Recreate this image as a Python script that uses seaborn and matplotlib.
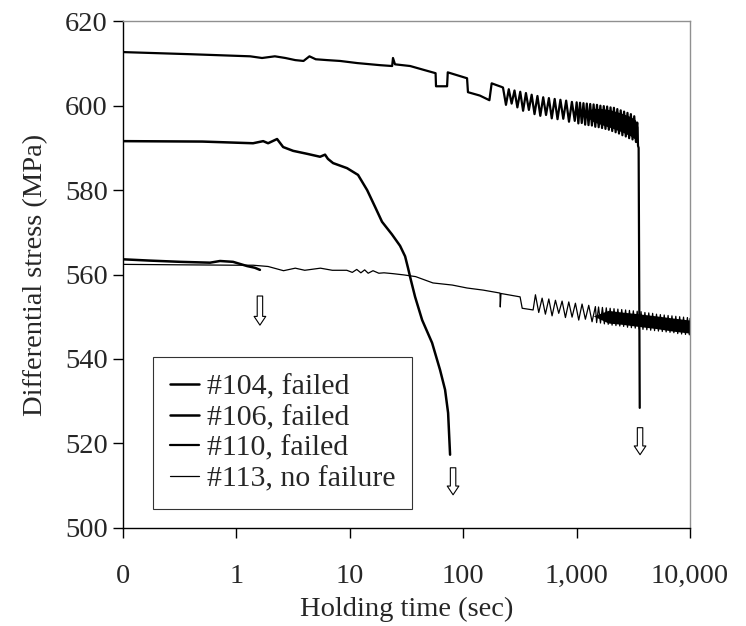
import matplotlib
matplotlib.use("Agg")
import matplotlib.pyplot as plt
import seaborn as sns

# holding time (s) and differential stress (MPa)
t104 = [0.1, 0.17, 0.32, 0.585, 0.716, 0.933, 1.24, 1.45, 1.61]
s104 = [563.6, 563.3, 563.0, 562.8, 563.2, 563.0, 562.0, 561.6, 561.1]

t106 = [0.1, 0.5, 1.40, 1.72, 1.90, 2.28, 2.58, 3.16, 4.19, 5.46, 6.04, 6.4,
        7.11, 9.44, 11.8, 14.2, 16.7, 19.2, 23.5, 27.7, 30.7, 32.6, 34.5,
        37.6, 43.4, 53.1, 62.4, 69.1, 73.5, 76.5]
s106 = [591.6, 591.5, 591.1, 591.6, 591.1, 592.1, 590.2, 589.3, 588.6, 587.9,
        588.4, 587.4, 586.4, 585.2, 583.6, 580.0, 576.0, 572.5, 569.5, 566.8,
        564.3, 561.5, 558.7, 554.7, 549.2, 543.8, 537.4, 532.7, 527.2, 517.3]

t110 = [0.1, 0.39, 1.32, 1.68, 2.18, 2.7, 3.3, 3.9, 4.4, 5.0, 6.3, 8.2, 11.6,
        18.5, 23.6, 24.0, 25.0, 34, 46, 57, 57.5, 72, 73, 108, 110, 140, 170,
        178, 200, 215,
        224, 238, 252, 267, 283, 300, 318, 337, 357, 379, 401, 425, 451, 478,
        507, 537, 569, 603, 640, 678, 719, 762, 808, 856, 908, 962,
        1000, 1035, 1071, 1109, 1148, 1188, 1229, 1272, 1317, 1363, 1411,
        1460, 1511, 1564, 1619, 1675, 1734, 1795, 1857, 1922, 1990, 2059,
        2131, 2206, 2283, 2363, 2446, 2531, 2620, 2712, 2806, 2904, 3006,
        3111, 3220, 3333, 3420, 3476, 3520, 3600]
s110 = [612.7, 612.2, 611.7, 611.3, 611.7, 611.3, 610.8, 610.6, 611.7, 611.0,
        610.8, 610.6, 610.1, 609.6, 609.4, 611.3, 609.8, 609.4, 608.4, 607.7,
        604.6, 604.6, 607.9, 606.5, 603.2, 602.4, 601.3, 605.3, 604.8, 604.5,
        604.3, 600.2, 603.9, 600.5, 603.6, 599.6, 603.3, 598.8, 603.0, 599.0,
        602.6, 598.0, 602.3, 597.6, 602.0, 597.8, 601.8, 597.0, 601.6, 596.8,
        601.4, 596.9, 601.2, 596.2, 600.9, 596.4,
        600.8, 595.8, 600.7, 595.9, 600.6, 595.5, 600.5, 595.4, 600.4, 595.3,
        600.3, 595.0, 600.2, 594.9, 600.0, 594.7, 599.9, 594.5, 599.8, 594.3,
        599.6, 594.0, 599.5, 593.7, 599.2, 593.4, 598.9, 593.0, 598.6, 592.7,
        598.3, 592.3, 598.0, 592.0, 597.5, 591.4, 596.0, 590.5, 590.0, 528.4]

t113 = [0.1, 0.3, 1.0, 1.4, 1.9, 2.6, 3.3, 4.0, 5.5, 7.0, 9.4, 10.5, 11.5,
        12.5, 13.5, 14.5, 16, 18, 20, 24, 30, 38, 54, 80, 108, 150, 211, 212,
        215, 317, 331, 413,
        433, 463, 496, 530, 568, 607, 650, 695, 744, 796, 852, 911, 975,
        1043, 1116, 1194, 1278, 1367, 1463,
        1500, 1560, 1622, 1687, 1755, 1825, 1898, 1974, 2053, 2135, 2220,
        2309, 2401, 2497, 2597, 2701, 2809, 2921, 3038, 3160, 3286, 3418,
        3554, 3696, 3844, 3998, 4158, 4324, 4497, 4677, 4864, 5059, 5261,
        5471, 5690, 5918, 6154, 6401, 6657, 6923, 7200, 7488, 7787, 8099,
        8423, 8760, 9110, 9474, 9853, 10000]
s113 = [562.4, 562.3, 562.2, 562.2, 561.9, 560.9, 561.5, 561.0, 561.5, 561.0,
        561.0, 560.5, 561.2, 560.4, 561.1, 560.3, 560.9, 560.3, 560.4, 560.2,
        559.9, 559.5, 558.0, 557.5, 556.8, 556.3, 555.6, 552.3, 555.5, 554.7,
        552.0, 551.6,
        555.2, 551.0, 554.4, 550.6, 554.2, 550.2, 553.9, 550.8, 553.7, 549.8,
        553.5, 549.9, 553.2, 549.2, 553.0, 549.4, 552.7, 548.8, 552.4,
        548.6, 552.3, 548.5, 552.2, 548.3, 552.1, 548.2, 552.0, 548.0, 551.9,
        547.9, 551.8, 547.8, 551.7, 547.7, 551.6, 547.5, 551.5, 547.4, 551.4,
        547.3, 551.3, 547.1, 551.2, 547.0, 551.0, 546.9, 550.9, 546.8, 550.8,
        546.7, 550.6, 546.6, 550.5, 546.5, 550.4, 546.4, 550.3, 546.3, 550.2,
        546.2, 550.1, 546.0, 550.0, 545.9, 549.9, 545.8, 549.8, 545.7, 549.6]

# solid parts of the noise bands (where the trace is drawn black)
band110_t = [1100, 1400, 1700, 2000, 2500, 3000, 3300, 3476]
band110_hi = [598.3, 599.4, 599.3, 599.0, 598.2, 597.4, 596.6, 595.0]
band110_lo = [598.3, 596.2, 595.4, 594.8, 593.8, 592.8, 592.0, 591.0]
band113_t = [1400, 1900, 2500, 3500, 5000, 7000, 10000]
band113_hi = [550.2, 551.5, 551.1, 550.7, 550.2, 549.7, 549.2]
band113_lo = [550.2, 548.5, 548.2, 547.7, 547.2, 546.6, 546.1]

labels = ["#104, failed", "#106, failed", "#110, failed", "#113, no failure"]

# failure markers (hollow arrows)
arrow_t = [1.61, 81.3, 3623]
arrow_top = [554.9, 514.2, 523.7]
arrow_bottom = [548.0, 507.8, 517.3]

xticks = [0.1, 1, 10, 100, 1000, 10000]
xticklabels = ["0", "1", "10", "100", "1,000", "10,000"]
yticks = [500, 520, 540, 560, 580, 600, 620]

sns.set_style("ticks")
plt.rcParams["font.family"] = ["Liberation Serif", "DejaVu Serif"]
plt.rcParams["font.size"] = 20.5

fig, ax = plt.subplots(figsize=(7.46, 6.26), dpi=100)
fig.subplots_adjust(left=0.165, right=0.925, bottom=0.157, top=0.966)

series = [(t104, s104, 1.8), (t106, s106, 1.8), (t110, s110, 1.6), (t113, s113, 0.9)]
for (t, s, lw), lab in zip(series, labels):
    sns.lineplot(x=t, y=s, ax=ax, color="black", lw=lw, sort=False,
                 estimator=None, label=lab)

ax.fill_between(band110_t, band110_lo, band110_hi, color="black", lw=0)
ax.fill_between(band113_t, band113_lo, band113_hi, color="black", lw=0)

for t, top, bot in zip(arrow_t, arrow_top, arrow_bottom):
    ax.annotate("", xy=(t, bot), xytext=(t, top),
                arrowprops=dict(arrowstyle="simple,head_length=0.45,head_width=0.6,tail_width=0.28",
                                fc="white", ec="black", lw=0.8, mutation_scale=14,
                                shrinkA=0, shrinkB=0))

ax.set_xscale("log")
ax.set_xlim(0.1, 10000)
ax.set_ylim(500, 620)
ax.set_xticks(xticks)
ax.set_xticklabels(xticklabels)
ax.xaxis.set_minor_locator(matplotlib.ticker.NullLocator())
ax.set_yticks(yticks)
ax.tick_params(axis="both", direction="out", length=7, width=1, color="black")
ax.tick_params(axis="x", pad=19)
ax.tick_params(axis="y", pad=4)

for side in ["top", "right"]:
    ax.spines[side].set_color("#909090")
    ax.spines[side].set_linewidth(1)
for side in ["left", "bottom"]:
    ax.spines[side].set_color("black")
    ax.spines[side].set_linewidth(1)

ax.set_xlabel("Holding time (sec)", labelpad=6)
ax.set_ylabel("Differential stress (MPa)", labelpad=12)

leg = ax.legend(loc="lower left", bbox_to_anchor=(0.053, 0.037), borderaxespad=0,
                frameon=True, fancybox=False, handlelength=1.0, handletextpad=0.25,
                labelspacing=0.13, borderpad=0.55, fontsize=21.5)
leg.get_frame().set_edgecolor("black")
leg.get_frame().set_linewidth(0.8)

plt.savefig("out.png", dpi=100)
plt.close()
